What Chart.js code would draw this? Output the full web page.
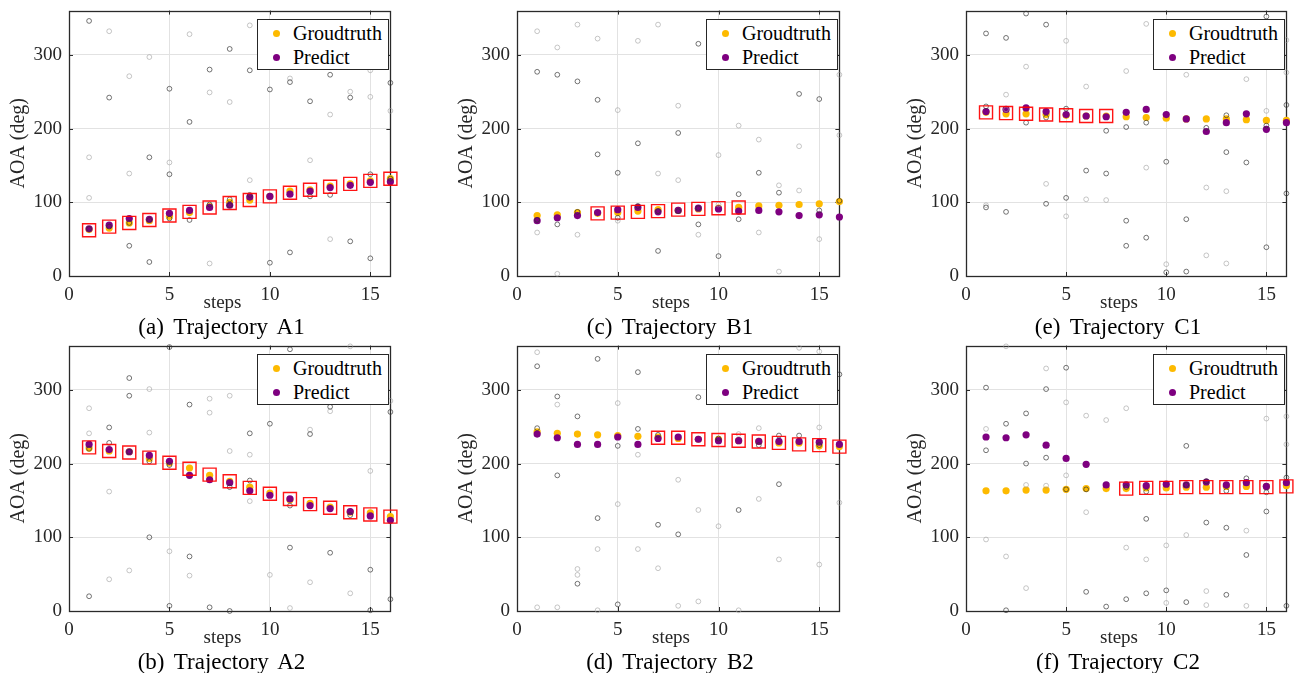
<!DOCTYPE html>
<html><head><meta charset="utf-8">
<script src="https://cdn.jsdelivr.net/npm/chart.js@4"></script>
<style>
body{margin:0;background:#fff;width:1297px;height:673px;position:relative;overflow:hidden;font-family:"Liberation Serif","Times New Roman",serif;color:#000}
canvas{position:absolute}
.cap{position:absolute;font-size:23px;white-space:nowrap;transform:translate(-50%,-50%);word-spacing:4px;line-height:26px}
.steps{position:absolute;font-size:19px;white-space:nowrap;transform:translate(-50%,-50%);line-height:22px;color:#262626}
.leg{position:absolute;width:130px;height:49px;border:1px solid #262626;background:#fff;font-size:20px}
.leg .dot{position:absolute;width:7px;height:7px;border-radius:50%;left:15px}
.leg .lt{position:absolute;left:35px;line-height:24px;white-space:nowrap}
</style>
</head><body>
<script>
// ---------------- data ----------------
const steps = [1,2,3,4,5,6,7,8,9,10,11,12,13,14,15,16];
const xTicks = [0,5,10,15];
const yTicks = [0,100,200,300];

// Trajectory A1
const gtA1 = [63,65,72,75,81,86,94,100,103,108,115,117,122,125,129,132];
const prA1 = [64,69,78,77,85,89,93,96,107,108,111,115,120,123,127,128];
const sqStepsA1 = [1,2,3,4,5,6,7,8,9,10,11,12,13,14,15,16];
const sqA1 = [62,67,72,76,82,87,93,99,103,108,113,117,121,125,129,132];
const darkA1 = [[1,346],[1,64],[2,242],[2,67],[3,41],[3,72],[4,161],[4,19],[4,76],[5,254],[5,138],[5,78],[6,209],[6,76],[7,280],[7,97],[8,308],[8,104],[8,96],[9,279],[9,110],[10,253],[10,18],[11,263],[11,32],[12,237],[12,108],[13,273],[13,110],[14,242],[14,47],[15,138],[15,24],[16,262],[16,132]];
const lightA1 = [[1,161],[1,106],[2,332],[3,271],[3,139],[4,297],[5,154],[6,328],[7,249],[7,17],[8,236],[9,340],[9,130],[11,268],[12,157],[13,219],[13,50],[14,250],[15,279],[15,243],[16,224]];

// Trajectory B1
const gtB1 = [82,83,86,85,86,88,90,89,91,92,93,95,96,97,98,101];
const prB1 = [75,79,82,86,90,93,87,89,92,91,88,89,87,82,83,80];
const sqStepsB1 = [4,5,6,7,8,9,10,11];
const sqB1 = [85,86,87,88,90,91,92,93];
const darkB1 = [[1,277],[1,76],[2,273],[2,70],[3,264],[3,87],[4,239],[4,165],[5,140],[5,79],[6,180],[6,95],[7,34],[7,88],[8,194],[8,88],[9,315],[9,70],[9,92],[10,27],[11,111],[11,77],[12,140],[13,113],[14,247],[15,240],[15,89],[16,102]];
const lightB1 = [[1,332],[1,59],[2,310],[2,3],[3,341],[3,56],[4,322],[5,225],[5,75],[6,319],[7,341],[7,139],[8,231],[8,130],[9,56],[10,164],[10,97],[11,204],[12,185],[12,59],[13,123],[13,6],[14,176],[14,116],[15,50],[16,273],[16,191]];

// Trajectory C1
const gtC1 = [222,220,220,219,218,217,217,216,215,214,213,213,213,212,211,211];
const prC1 = [223,226,228,223,219,217,216,222,226,219,213,196,208,220,199,208];
const sqStepsC1 = [1,2,3,4,5,6,7];
const sqC1 = [222,221,220,219,218,217,217];
const darkC1 = [[1,329],[1,93],[1,230],[2,323],[2,87],[3,356],[3,208],[4,341],[4,98],[4,215],[5,106],[5,227],[6,143],[7,197],[7,139],[8,202],[8,75],[8,41],[9,208],[9,52],[10,155],[10,5],[11,77],[11,6],[12,201],[13,218],[13,168],[14,154],[15,352],[15,204],[15,39],[16,232],[16,112]];
const lightC1 = [[1,96],[2,246],[2,226],[3,284],[4,125],[5,319],[5,81],[6,257],[6,104],[7,103],[8,278],[9,342],[9,147],[10,16],[11,273],[12,120],[12,28],[13,115],[13,17],[14,267],[15,224],[16,320],[16,276]];

// Trajectory A2
const gtA2 = [221,217,216,207,201,194,184,176,168,160,151,146,141,134,133,128];
const prA2 = [226,219,216,211,203,184,178,174,163,157,152,143,139,135,129,123];
const sqStepsA2 = [1,2,3,4,5,6,7,8,9,10,11,12,13,14,15,16];
const sqA2 = [222,217,215,208,201,193,185,176,167,159,152,145,140,134,131,128];
const darkA2 = [[1,20],[1,220],[2,249],[2,228],[3,316],[3,292],[3,216],[4,203],[4,100],[5,358],[5,7],[5,198],[6,280],[6,74],[7,5],[8,168],[8,0],[9,241],[9,177],[10,254],[11,355],[11,86],[11,143],[12,240],[13,277],[13,79],[14,130],[15,56],[15,1],[16,270],[16,16]];
const lightA2 = [[1,275],[1,241],[2,162],[2,43],[3,55],[4,301],[4,242],[5,81],[6,48],[7,288],[7,269],[8,292],[8,217],[9,212],[9,149],[10,49],[11,4],[12,246],[12,39],[13,271],[14,359],[14,24],[15,190],[16,285]];

// Trajectory B2
const gtB2 = [243,241,240,239,238,237,236,234,233,233,231,230,228,228,224,223];
const prB2 = [240,235,226,226,236,226,234,236,233,231,231,230,230,230,229,226];
const sqStepsB2 = [7,8,9,10,11,12,13,14,15,16];
const sqB2 = [235,235,233,232,231,230,228,226,225,223];
const darkB2 = [[1,332],[1,248],[2,291],[2,184],[3,264],[3,37],[4,342],[4,126],[5,224],[5,9],[6,324],[6,247],[7,239],[7,117],[8,104],[9,290],[10,234],[11,137],[12,225],[13,238],[13,172],[14,238],[15,225],[16,321]];
const lightB2 = [[1,351],[1,5],[2,280],[2,5],[3,57],[3,49],[4,84],[4,1],[5,282],[5,145],[6,212],[6,84],[7,58],[8,178],[8,7],[9,137],[9,13],[10,115],[11,240],[11,1],[12,248],[12,152],[13,70],[14,357],[15,352],[15,249],[15,63],[16,147]];

// Trajectory C2
const gtC2 = [163,163,164,164,165,166,166,166,167,167,168,168,169,169,169,170];
const prC2 = [236,235,239,225,207,199,171,171,170,172,171,175,171,174,169,174];
const sqStepsC2 = [8,9,10,11,12,13,14,15,16];
const sqC2 = [166,167,167,168,168,168,168,168,169];
const darkC2 = [[1,303],[1,218],[2,254],[2,1],[3,268],[3,200],[4,301],[4,208],[5,330],[5,165],[6,26],[6,165],[7,6],[8,16],[8,168],[9,162],[9,125],[9,24],[10,28],[11,224],[11,171],[11,12],[12,120],[12,176],[13,163],[13,113],[13,22],[14,180],[14,76],[15,161],[15,135],[16,181],[16,7]];
const lightC2 = [[1,247],[1,97],[2,359],[2,74],[3,171],[3,31],[4,329],[4,170],[5,283],[5,184],[6,265],[6,134],[7,259],[8,275],[8,86],[9,70],[10,89],[10,11],[11,103],[12,27],[12,8],[14,109],[14,7],[15,261],[16,264],[16,226]];

const captions = ['(a) Trajectory A1','(c) Trajectory B1','(e) Trajectory C1','(b) Trajectory A2','(d) Trajectory B2','(f) Trajectory C2'];
const seriesNames = ['Groudtruth','Predict'];

// ---------------- layout ----------------
const colLeft = [69, 517, 966];
const colWidth = [329, 330, 328];
const rowTop = [10, 345];
const plotH = 266;
const YAXW = 69, XAXH = 30, PADR = 3;

const panels = [
  {gt:gtA1, pr:prA1, sqS:sqStepsA1, sq:sqA1, dark:darkA1, light:lightA1, c:0, r:0},
  {gt:gtB1, pr:prB1, sqS:sqStepsB1, sq:sqB1, dark:darkB1, light:lightB1, c:1, r:0},
  {gt:gtC1, pr:prC1, sqS:sqStepsC1, sq:sqC1, dark:darkC1, light:lightC1, c:2, r:0},
  {gt:gtA2, pr:prA2, sqS:sqStepsA2, sq:sqA2, dark:darkA2, light:lightA2, c:0, r:1},
  {gt:gtB2, pr:prB2, sqS:sqStepsB2, sq:sqB2, dark:darkB2, light:lightB2, c:1, r:1},
  {gt:gtC2, pr:prC2, sqS:sqStepsC2, sq:sqC2, dark:darkC2, light:lightC2, c:2, r:1},
];

const COL_GT = '#FDBA00', COL_PR = '#7E0080';

Chart.defaults.font.family = '"Liberation Serif","Times New Roman",serif';
Chart.defaults.color = '#262626';

const framePlugin = {
  id: 'frame',
  beforeDatasetsDraw(chart) {
    const {ctx, chartArea: a, scales: {x, y}} = chart;
    ctx.save();
    ctx.strokeStyle = '#2a2a2a';
    ctx.lineWidth = 1;
    ctx.beginPath();
    xTicks.forEach(v => {
      if (v === 0) return;
      const px = Math.round(x.getPixelForValue(v)) + 0.5;
      ctx.moveTo(px, a.bottom); ctx.lineTo(px, a.bottom - 4);
      ctx.moveTo(px, a.top); ctx.lineTo(px, a.top + 4);
    });
    yTicks.forEach(v => {
      if (v === 0) return;
      const py = Math.round(y.getPixelForValue(v)) + 0.5;
      ctx.moveTo(a.left, py); ctx.lineTo(a.left + 4, py);
      ctx.moveTo(a.right, py); ctx.lineTo(a.right - 4, py);
    });
    ctx.stroke();
    ctx.lineWidth = 1.3;
    ctx.strokeRect(Math.round(a.left) + 0.5, Math.round(a.top) + 0.5, Math.round(a.right - a.left), Math.round(a.bottom - a.top));
    ctx.restore();
  }
};

const pts = arr => arr.map(p => ({x: p[0], y: p[1]}));

panels.forEach((p, i) => {
  const left = colLeft[p.c], pw = colWidth[p.c], top = rowTop[p.r];
  const cv = document.createElement('canvas');
  const W = YAXW + pw + PADR, H = 10 + plotH + XAXH;
  cv.width = W; cv.height = H;
  cv.style.left = (left - YAXW) + 'px';
  cv.style.top = (top - 10) + 'px';
  cv.style.width = W + 'px'; cv.style.height = H + 'px';
  document.body.appendChild(cv);

  new Chart(cv, {
    type: 'scatter',
    data: {
      datasets: [
        {label: 'Selected', data: p.sqS.map((s, k) => ({x: s, y: p.sq[k]})), pointStyle: 'rect', pointRadius: 9.2, pointBorderWidth: 1.4, borderColor: 'rgba(255,0,0,0.92)', backgroundColor: 'rgba(0,0,0,0)', clip: false},
        {label: 'Candidates', data: pts(p.dark), pointStyle: 'circle', pointRadius: 2.4, pointBorderWidth: 0.8, borderColor: 'rgba(50,50,50,0.85)', backgroundColor: 'rgba(0,0,0,0)', clip: false},
        {label: 'Candidates (weak)', data: pts(p.light), pointStyle: 'circle', pointRadius: 2.4, pointBorderWidth: 0.8, borderColor: 'rgba(160,160,160,0.75)', backgroundColor: 'rgba(0,0,0,0)', clip: false},
        {label: seriesNames[1], data: steps.map((s, k) => ({x: s, y: p.pr[k]})), pointRadius: 3.6, pointBorderWidth: 0, borderColor: COL_PR, backgroundColor: COL_PR, clip: false},
        {label: seriesNames[0], data: steps.map((s, k) => ({x: s, y: p.gt[k]})), pointRadius: 3.6, pointBorderWidth: 0, borderColor: COL_GT, backgroundColor: COL_GT, clip: false},
      ]
    },
    options: {
      responsive: false,
      animation: false,
      events: [],
      layout: {padding: {top: 10, right: PADR, left: 0, bottom: 0}},
      plugins: {legend: {display: false}, tooltip: {enabled: false}},
      elements: {point: {hoverRadius: 0}},
      scales: {
        x: {
          type: 'linear', min: 0, max: 16,
          afterBuildTicks: s => { s.ticks = xTicks.map(v => ({value: v})); },
          afterFit: s => { s.height = XAXH; s.paddingLeft = 0; s.paddingRight = 0; },
          ticks: {font: {size: 19}, padding: 8, color: '#262626', maxRotation: 0},
          grid: {color: '#e2e2e2', lineWidth: 1, drawTicks: false},
          border: {display: false}
        },
        y: {
          type: 'linear', min: 0, max: 360,
          afterBuildTicks: s => { s.ticks = yTicks.map(v => ({value: v})); },
          afterFit: s => { s.width = YAXW; s.paddingTop = 0; s.paddingBottom = 0; },
          ticks: {font: {size: 19}, padding: 7, color: '#262626'},
          grid: {color: '#e2e2e2', lineWidth: 1, drawTicks: false},
          border: {display: false},
          title: {display: true, text: 'AOA (deg)', font: {size: 20}, color: '#262626', padding: {top: 7, bottom: 0}}
        }
      }
    },
    plugins: [framePlugin]
  });

  const cx = left + pw / 2;
  const st = document.createElement('div');
  st.className = 'steps'; st.textContent = 'steps';
  st.style.left = (cx - 11) + 'px'; st.style.top = (top + 292) + 'px';
  document.body.appendChild(st);

  const cap = document.createElement('div');
  cap.className = 'cap'; cap.textContent = captions[i];
  cap.style.left = (cx - 12) + 'px'; cap.style.top = (top + 317) + 'px';
  document.body.appendChild(cap);

  const lg = document.createElement('div');
  lg.className = 'leg';
  lg.style.left = (left + pw - 9 - 132) + 'px'; lg.style.top = (top + 9) + 'px';
  lg.innerHTML =
    '<span class="dot" style="background:' + COL_GT + ';top:10px"></span><span class="lt" style="top:1px">' + seriesNames[0] + '</span>' +
    '<span class="dot" style="background:' + COL_PR + ';top:34px"></span><span class="lt" style="top:25px">' + seriesNames[1] + '</span>';
  document.body.appendChild(lg);
});
</script>
</body></html>
